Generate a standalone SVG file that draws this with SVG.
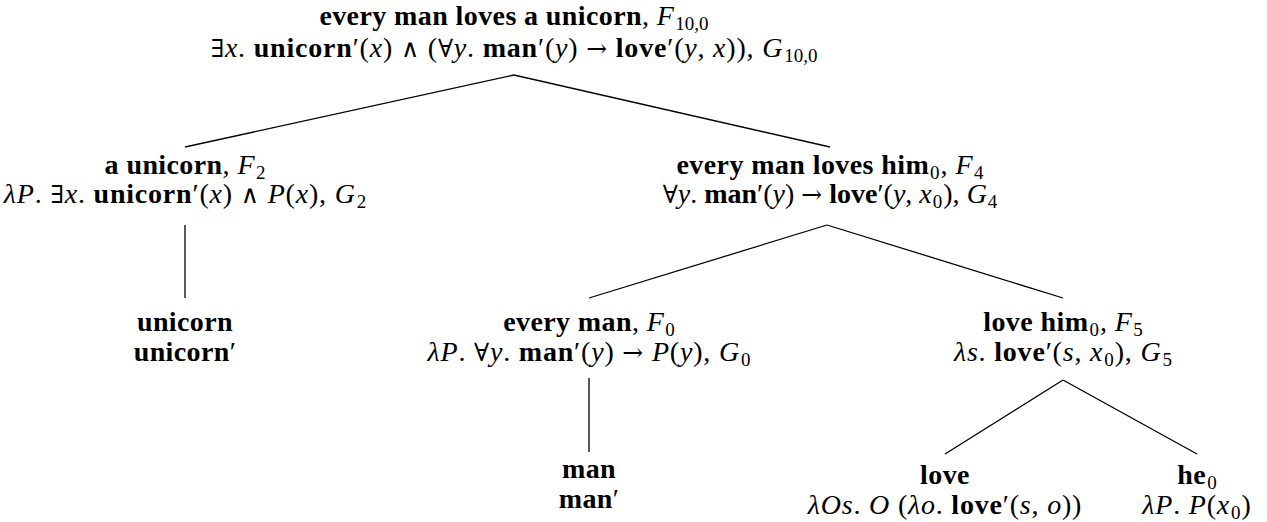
<svg xmlns="http://www.w3.org/2000/svg" width="1267" height="522" viewBox="0 0 1267 522" font-family="'Liberation Serif', 'Times New Roman', 'DejaVu Serif', serif">
<style>
text{font-family:"Liberation Serif","Times New Roman","DejaVu Serif",serif;font-size:28px;fill:#000;text-anchor:middle}
.t{letter-spacing:0.4px}
.m{letter-spacing:0.8px}
.b{font-weight:bold}
.i{font-style:italic}
.s{font-size:19px;letter-spacing:0}
.o{font-family:"DejaVu Serif","DejaVu Sans",serif;font-size:25px}
.edge{stroke:#000;stroke-width:1.3;fill:none}
</style>
<rect width="1267" height="522" fill="#fff"/>
<g id="connectors">
<line class="edge" x1="514" y1="75" x2="185" y2="147"/>
<line class="edge" x1="514" y1="75" x2="830" y2="147"/>
<line class="edge" x1="185" y1="225" x2="185" y2="298"/>
<line class="edge" x1="827" y1="225" x2="589" y2="298"/>
<line class="edge" x1="827" y1="225" x2="1063" y2="298"/>
<line class="edge" x1="589" y1="378" x2="589" y2="452"/>
<line class="edge" x1="1063" y1="380" x2="945" y2="454"/>
<line class="edge" x1="1063" y1="380" x2="1197" y2="454"/>
</g>
<g id="root">
<text x="514" y="25" class="t"><tspan class="b">every man loves a unicorn</tspan>, <tspan class="i">F</tspan><tspan class="s" dx="1" dy="5">10,0</tspan></text>
<text x="514" y="57" class="m"><tspan class="o">∃</tspan><tspan class="i">x</tspan>. <tspan class="b">unicorn</tspan>′(<tspan class="i">x</tspan>) <tspan class="o">∧</tspan> (<tspan class="o">∀</tspan><tspan class="i">y</tspan>. <tspan class="b">man</tspan>′(<tspan class="i">y</tspan>) <tspan class="o">→</tspan> <tspan class="b">love</tspan>′(<tspan class="i">y</tspan>, <tspan class="i">x</tspan>)), <tspan class="i">G</tspan><tspan class="s" dx="1" dy="5">10,0</tspan></text>
</g>
<g id="a-unicorn">
<text x="185" y="174" class="t"><tspan class="b">a unicorn</tspan>, <tspan class="i">F</tspan><tspan class="s" dx="1" dy="5">2</tspan></text>
<text x="185" y="203" class="m"><tspan class="i">λP</tspan>. <tspan class="o">∃</tspan><tspan class="i">x</tspan>. <tspan class="b">unicorn</tspan>′(<tspan class="i">x</tspan>) <tspan class="o">∧</tspan> <tspan class="i">P</tspan>(<tspan class="i">x</tspan>), <tspan class="i">G</tspan><tspan class="s" dx="1" dy="5">2</tspan></text>
</g>
<g id="every-man-loves-him">
<text x="830" y="174" class="t"><tspan class="b">every man loves him</tspan><tspan class="s" dx="1" dy="5">0</tspan><tspan dx="1" dy="-5">, </tspan><tspan class="i">F</tspan><tspan class="s" dx="1" dy="5">4</tspan></text>
<text x="830" y="203"><tspan class="o">∀</tspan><tspan class="i">y</tspan>. <tspan class="b">man</tspan>′(<tspan class="i">y</tspan>) <tspan class="o">→</tspan> <tspan class="b">love</tspan>′(<tspan class="i">y</tspan>, <tspan class="i">x</tspan><tspan class="s" dx="1" dy="5">0</tspan><tspan dx="1" dy="-5">), </tspan><tspan class="i">G</tspan><tspan class="s" dx="1" dy="5">4</tspan></text>
</g>
<g id="unicorn">
<text x="185" y="331" class="b t">unicorn</text>
<text x="185" y="361" class="t"><tspan class="b">unicorn</tspan>′</text>
</g>
<g id="every-man">
<text x="589" y="331" class="t"><tspan class="b">every man</tspan>, <tspan class="i">F</tspan><tspan class="s" dx="1" dy="5">0</tspan></text>
<text x="589" y="361" class="m"><tspan class="i">λP</tspan>. <tspan class="o">∀</tspan><tspan class="i">y</tspan>. <tspan class="b">man</tspan>′(<tspan class="i">y</tspan>) <tspan class="o">→</tspan> <tspan class="i">P</tspan>(<tspan class="i">y</tspan>), <tspan class="i">G</tspan><tspan class="s" dx="1" dy="5">0</tspan></text>
</g>
<g id="love-him">
<text x="1063" y="331" class="t"><tspan class="b">love him</tspan><tspan class="s" dx="1" dy="5">0</tspan><tspan dx="1" dy="-5">, </tspan><tspan class="i">F</tspan><tspan class="s" dx="1" dy="5">5</tspan></text>
<text x="1063" y="361" class="m"><tspan class="i">λs</tspan>. <tspan class="b">love</tspan>′(<tspan class="i">s</tspan>, <tspan class="i">x</tspan><tspan class="s" dx="1" dy="5">0</tspan><tspan dx="1" dy="-5">), </tspan><tspan class="i">G</tspan><tspan class="s" dx="1" dy="5">5</tspan></text>
</g>
<g id="man">
<text x="589" y="478" class="b t">man</text>
<text x="589" y="508" class="t"><tspan class="b">man</tspan>′</text>
</g>
<g id="love">
<text x="945" y="484" class="b t">love</text>
<text x="945" y="514" class="m"><tspan class="i">λOs</tspan>. <tspan class="i">O</tspan> (<tspan class="i">λo</tspan>. <tspan class="b">love</tspan>′(<tspan class="i">s</tspan>, <tspan class="i">o</tspan>))</text>
</g>
<g id="he">
<text x="1197" y="484" class="t"><tspan class="b">he</tspan><tspan class="s" dx="1" dy="5">0</tspan></text>
<text x="1197" y="514" class="m"><tspan class="i">λP</tspan>. <tspan class="i">P</tspan>(<tspan class="i">x</tspan><tspan class="s" dx="1" dy="5">0</tspan><tspan dx="1" dy="-5">)</tspan></text>
</g>
</svg>
